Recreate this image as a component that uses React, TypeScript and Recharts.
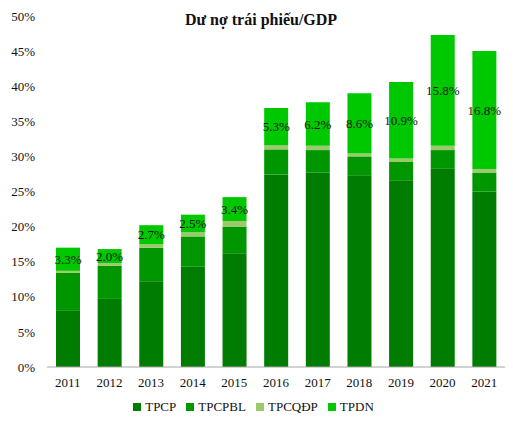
import { BarChart, Bar, XAxis, YAxis, Legend, LabelList } from "recharts";

const YEARS = ["2011", "2012", "2013", "2014", "2015", "2016", "2017", "2018", "2019", "2020", "2021"];
const TPCP = [8.0, 9.7, 12.2, 14.3, 16.2, 27.4, 27.7, 27.3, 26.6, 28.3, 25.0];
const TPCPBL = [5.4, 4.7, 4.8, 4.3, 3.8, 3.6, 3.2, 2.7, 2.6, 2.6, 2.7];
const TPCQDP = [0.3, 0.4, 0.5, 0.6, 0.8, 0.6, 0.6, 0.4, 0.5, 0.6, 0.5];
const TPDN = [3.3, 2.0, 2.7, 2.5, 3.4, 5.3, 6.2, 8.6, 10.9, 15.8, 16.8];
const Y_TICKS = [0, 5, 10, 15, 20, 25, 30, 35, 40, 45, 50];

const FONT = '"Liberation Serif", "Times New Roman", serif';

const data = YEARS.map((year, i) => ({
  year,
  TPCP: TPCP[i],
  TPCPBL: TPCPBL[i],
  "TPCQĐP": TPCQDP[i],
  TPDN: TPDN[i],
}));

export default function App() {
  return (
    <div style={{ position: "absolute", left: 0, top: 0, width: 513, height: 423, fontFamily: FONT }}>
      <div
        style={{
          position: "absolute",
          left: 0,
          width: 522,
          top: 11,
          textAlign: "center",
          fontWeight: "bold",
          fontSize: 16,
          color: "#111",
          zIndex: 1,
        }}
      >
        Dư nợ trái phiếu/GDP
      </div>
      <BarChart
        width={513}
        height={423}
        data={data}
        margin={{ top: 16, right: 8, left: 0, bottom: 0 }}
        barSize={24}
      >
        <XAxis
          dataKey="year"
          height={30}
          tickLine={false}
          axisLine={{ stroke: "#a6a6a6" }}
          tick={{ fontSize: 13, fill: "#111", fontFamily: FONT }}
          tickMargin={5}
        />
        <YAxis
          width={47}
          domain={[0, 50]}
          ticks={Y_TICKS}
          interval={0}
          tickLine={false}
          axisLine={false}
          tickFormatter={(v) => `${v}%`}
          tick={{ fontSize: 13, fill: "#111", fontFamily: FONT }}
          tickMargin={6}
        />
        <Legend
          verticalAlign="bottom"
          height={26}
          iconType="square"
          iconSize={8}
          formatter={(value) => <span style={{ color: "#111", fontSize: 13, fontFamily: FONT }}>{value}</span>}
          wrapperStyle={{ left: 6 }}
        />
        <Bar dataKey="TPCP" stackId="a" fill="#007d00" isAnimationActive={false} />
        <Bar dataKey="TPCPBL" stackId="a" fill="#009600" isAnimationActive={false} />
        <Bar dataKey="TPCQĐP" stackId="a" fill="#9bc96b" isAnimationActive={false} />
        <Bar dataKey="TPDN" stackId="a" fill="#00c800" isAnimationActive={false}>
          <LabelList
            dataKey="TPDN"
            position="center"
            formatter={(v) => `${Number(v).toFixed(1)}%`}
            style={{ fontSize: 13, fill: "#111", fontFamily: FONT }}
          />
        </Bar>
      </BarChart>
    </div>
  );
}
